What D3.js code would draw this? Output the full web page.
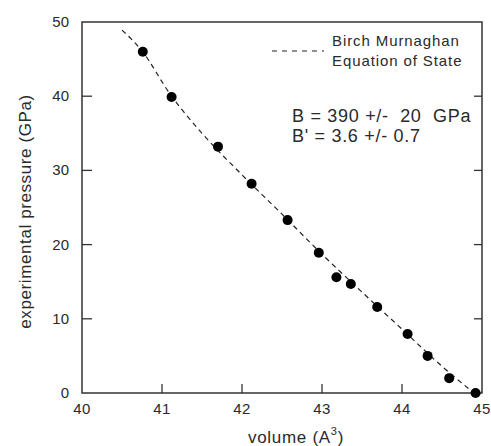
<!DOCTYPE html>
<html>
<head>
<meta charset="utf-8">
<script src="https://cdn.jsdelivr.net/npm/d3@7"></script>
<style>
  body { margin: 0; background: #fff; }
  text { font-family: "Liberation Sans", Arial, sans-serif; fill: #2a2a2a; }
</style>
</head>
<body>
<div id="chart"></div>
<script>
// measured points: volume (A^3) vs pressure (GPa)
const volume = [40.76, 41.12, 41.70, 42.12, 42.57, 42.96, 43.18, 43.36, 43.69, 44.07, 44.32, 44.59, 44.92];
const pressure = [46.0, 39.9, 33.2, 28.2, 23.3, 18.9, 15.6, 14.7, 11.6, 7.95, 5.0, 2.0, 0];

// Birch Murnaghan fit
const fitVolume = [40.5, 40.75, 41.1, 41.5, 42.0, 42.5, 43.0, 43.5, 44.0, 44.5, 44.9];
const fitPressure = [48.9, 46.1, 40.3, 35.0, 29.4, 24.1, 18.7, 13.6, 8.6, 3.6, 0];

const xTicks = [40, 41, 42, 43, 44, 45];
const yTicks = [0, 10, 20, 30, 40, 50];

const width = 491, height = 446;
const margin = { left: 82, right: 9, top: 22, bottom: 53 };
const innerW = width - margin.left - margin.right;
const innerH = height - margin.top - margin.bottom;

const svg = d3.select("#chart").append("svg")
  .attr("width", width)
  .attr("height", height);

const g = svg.append("g")
  .attr("transform", `translate(${margin.left},${margin.top})`);

const x = d3.scaleLinear().domain([40, 45]).range([0, innerW]);
const y = d3.scaleLinear().domain([0, 50]).range([innerH, 0]);

// frame
g.append("rect")
  .attr("width", innerW)
  .attr("height", innerH)
  .attr("fill", "none")
  .attr("stroke", "#333")
  .attr("stroke-width", 1.5);

// ticks pointing inward
g.selectAll(".ytick-l")
  .data(yTicks.filter((d) => d > 0 && d < 50))
  .join("line")
  .attr("x1", 0).attr("x2", 10)
  .attr("y1", (d) => y(d)).attr("y2", (d) => y(d))
  .attr("stroke", "#333").attr("stroke-width", 1.3);

g.selectAll(".ytick-r")
  .data(yTicks.filter((d) => d > 0 && d < 50))
  .join("line")
  .attr("class", "ytick-r")
  .attr("x1", innerW).attr("x2", innerW - 8)
  .attr("y1", (d) => y(d)).attr("y2", (d) => y(d))
  .attr("stroke", "#333").attr("stroke-width", 1.3);

g.selectAll(".xtick")
  .data(xTicks.filter((d) => d > 40 && d < 45))
  .join("line")
  .attr("class", "xtick")
  .attr("x1", (d) => x(d)).attr("x2", (d) => x(d))
  .attr("y1", innerH).attr("y2", innerH - 9)
  .attr("stroke", "#333").attr("stroke-width", 1.3);

// tick labels
g.selectAll(".ylab")
  .data(yTicks)
  .join("text")
  .attr("class", "ylab")
  .attr("x", -13)
  .attr("y", (d) => y(d) + 5)
  .attr("text-anchor", "end")
  .attr("font-size", 15)
  .text((d) => d);

g.selectAll(".xlab")
  .data(xTicks)
  .join("text")
  .attr("class", "xlab")
  .attr("x", (d) => x(d))
  .attr("y", innerH + 21)
  .attr("text-anchor", "middle")
  .attr("font-size", 15)
  .attr("letter-spacing", 0.5)
  .text((d) => d);

// axis titles
const xt = svg.append("text")
  .attr("x", 296)
  .attr("y", 443)
  .attr("text-anchor", "middle")
  .attr("font-size", 17)
  .attr("letter-spacing", 0.7);
xt.append("tspan").text("volume (A");
xt.append("tspan").attr("dy", -8).attr("font-size", 11).text("3");
xt.append("tspan").attr("dy", 8).text(")");

svg.append("text")
  .attr("transform", `translate(31,${margin.top + innerH / 2 + 4}) rotate(-90)`)
  .attr("text-anchor", "middle")
  .attr("font-size", 17)
  .attr("letter-spacing", 0.6)
  .text("experimental pressure (GPa)");

// fit curve
const line = d3.line()
  .x((d, i) => x(fitVolume[i]))
  .y((d, i) => y(fitPressure[i]))
  .curve(d3.curveMonotoneX);

g.append("path")
  .datum(fitVolume)
  .attr("d", line)
  .attr("fill", "none")
  .attr("stroke", "#222")
  .attr("stroke-width", 1.2)
  .attr("stroke-dasharray", "5,4");

// points
g.selectAll(".pt")
  .data(volume)
  .join("circle")
  .attr("class", "pt")
  .attr("cx", (d) => x(d))
  .attr("cy", (d, i) => y(pressure[i]))
  .attr("r", 5)
  .attr("fill", "#000");

// legend
svg.append("line")
  .attr("x1", 272).attr("x2", 324)
  .attr("y1", 51).attr("y2", 51)
  .attr("stroke", "#222")
  .attr("stroke-width", 1.2)
  .attr("stroke-dasharray", "5,5");

svg.append("text")
  .attr("x", 332).attr("y", 46)
  .attr("font-size", 15)
  .attr("letter-spacing", 0.9)
  .text("Birch Murnaghan");
svg.append("text")
  .attr("x", 332).attr("y", 66)
  .attr("font-size", 15)
  .attr("letter-spacing", 0.9)
  .text("Equation of State");

// fit parameters
svg.append("text")
  .attr("x", 292).attr("y", 122)
  .attr("font-size", 18)
  .attr("letter-spacing", 0.7)
  .attr("xml:space", "preserve")
  .text("B = 390 +/-  20  GPa");
svg.append("text")
  .attr("x", 292).attr("y", 142)
  .attr("font-size", 18)
  .attr("letter-spacing", 0.7)
  .text("B' = 3.6 +/- 0.7");
</script>
</body>
</html>
